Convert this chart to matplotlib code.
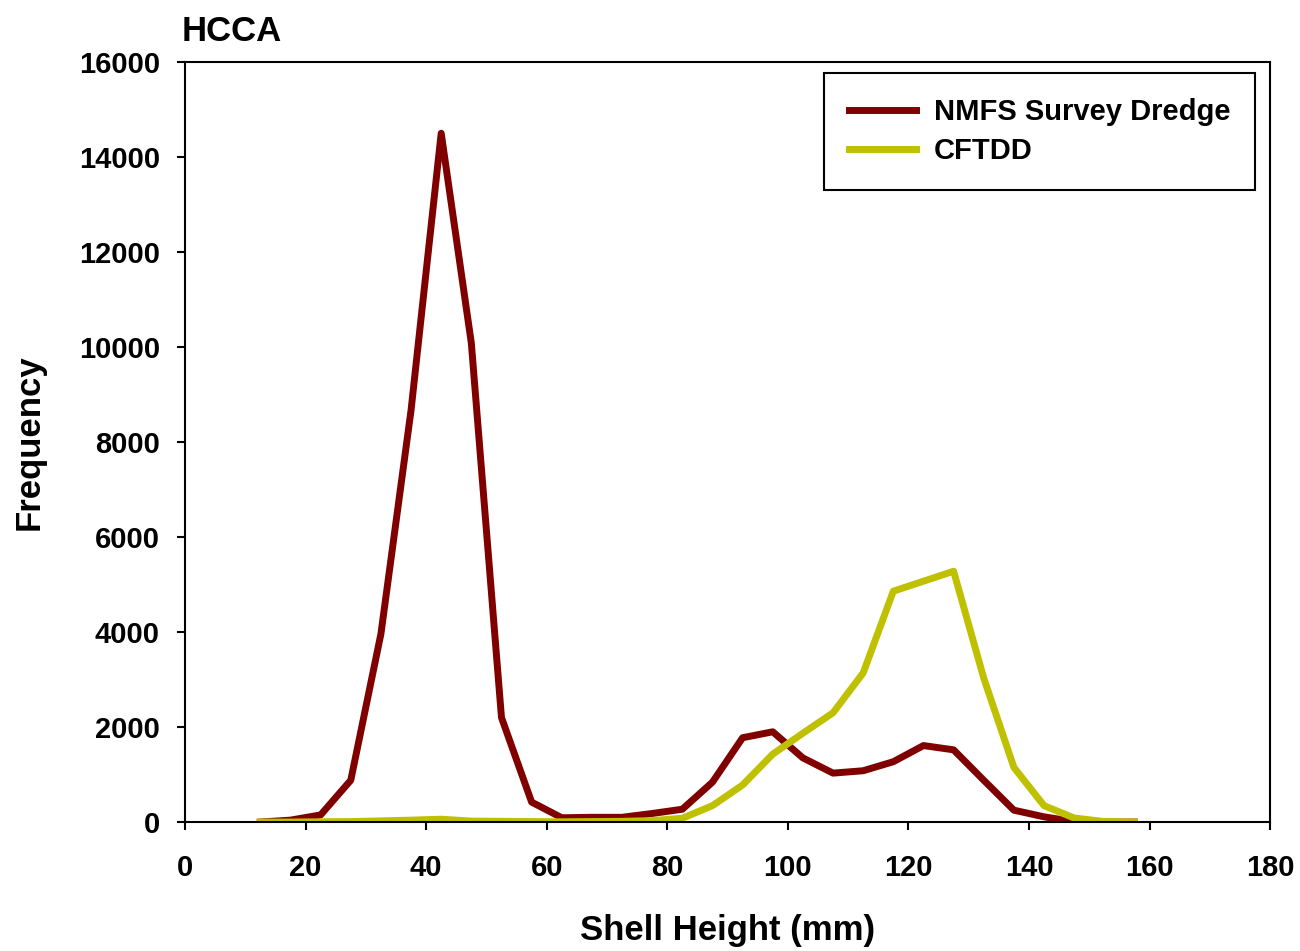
import matplotlib.pyplot as plt

# --- Data ---
shell_height = [12.5, 17.5, 22.5, 27.5, 32.5, 37.5, 42.5, 47.5, 52.5, 57.5,
                62.5, 67.5, 72.5, 77.5, 82.5, 87.5, 92.5, 97.5, 102.5, 107.5,
                112.5, 117.5, 122.5, 127.5, 132.5, 137.5, 142.5, 147.5, 152.5, 157.5]

nmfs_dredge = [0, 40, 150, 880, 3960, 8670, 14500, 10080, 2200, 420,
               90, 100, 100, 180, 270, 840, 1775, 1900, 1350, 1030,
               1080, 1270, 1610, 1520, 880, 250, 110, 10, 0, 0]

cftdd = [0, 0, 5, 10, 25, 40, 60, 20, 15, 10,
         5, 10, 15, 30, 80, 345, 780, 1430, 1870, 2300,
         3140, 4860, 5070, 5280, 3030, 1150, 345, 85, 10, 0]

# --- Plot ---
plt.rcParams['font.family'] = ['Liberation Sans', 'DejaVu Sans']
plt.rcParams['font.weight'] = 'bold'

fig = plt.figure(figsize=(13, 9.51), dpi=100)
ax = fig.add_axes([0.1423, 0.1356, 0.8347, 0.7992])

ax.plot(shell_height, nmfs_dredge, color='#800000', linewidth=5,
        label='NMFS Survey Dredge')
ax.plot(shell_height, cftdd, color='#BEC000', linewidth=5, label='CFTDD')

ax.set_xlim(0, 180)
ax.set_ylim(0, 16000)
ax.set_xticks(range(0, 181, 20))
ax.set_yticks(range(0, 16001, 2000))

for s in ax.spines.values():
    s.set_linewidth(1.5)
ax.tick_params(axis='both', direction='out', length=6, width=1.5,
               labelsize=21)
ax.tick_params(axis='y', pad=12)
ax.tick_params(axis='x', pad=17)

ax.set_xlabel('Shell Height (mm)', fontsize=25, fontweight='bold', labelpad=23)
ax.set_ylabel('Frequency', fontsize=25, fontweight='bold', labelpad=24)
ax.set_title('HCCA', loc='left', fontsize=25, fontweight='bold', pad=15,
             x=-0.003)

leg = ax.legend(loc='upper right', bbox_to_anchor=(0.986, 0.9855),
                borderaxespad=0, fontsize=21, fancybox=False,
                edgecolor='black', framealpha=1, borderpad=0.85,
                labelspacing=0.4, handlelength=2.3, handletextpad=0.6)
leg.get_frame().set_linewidth(1.5)

fig.savefig('out.png', dpi=100)
